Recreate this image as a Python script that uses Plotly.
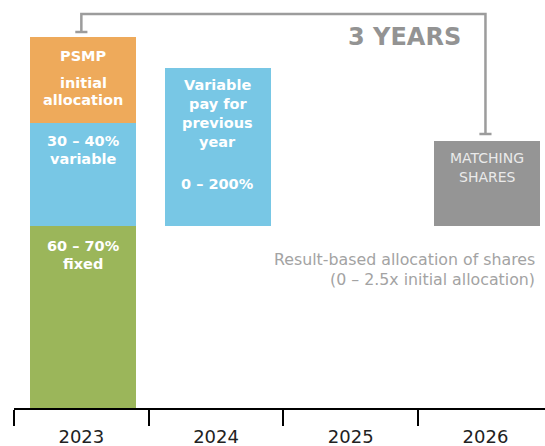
import plotly.graph_objects as go

# ---- data (heights in chart units, 1 unit ~ 1 px of the original) ----
years = ["2023", "2024", "2025", "2026"]
fixed_2023 = 182          # 60-70% fixed
variable_2023 = 103       # 30-40% variable
psmp_2023 = 86            # PSMP initial allocation
varpay_2024 = 158         # variable pay for previous year
varpay_base = 182
matching_2026 = 85        # matching shares
matching_base = 182

GREEN = "#9BB65A"
BLUE = "#78C7E5"
ORANGE = "#EEAA5B"
GRAY = "#959595"
LINE_GRAY = "#9C9C9C"

BAR_W = 0.787
BAR_OFF = -0.38
def bar_center(i):
    return i + BAR_OFF + BAR_W / 2

fig = go.Figure()

def add_bar(x, y, base, color):
    fig.add_trace(go.Bar(
        x=[x], y=[y], base=[base], width=[BAR_W], offset=BAR_OFF,
        marker=dict(color=color, line=dict(width=0)),
        hoverinfo="skip", showlegend=False))

add_bar(years[0], fixed_2023, 0, GREEN)
add_bar(years[0], variable_2023, fixed_2023, BLUE)
add_bar(years[0], psmp_2023, fixed_2023 + variable_2023, ORANGE)
add_bar(years[1], varpay_2024, varpay_base, BLUE)
add_bar(years[3], matching_2026, matching_base, GRAY)

# helper to register all categories on the axis
fig.add_trace(go.Scatter(x=years, y=[0, 0, 0, 0], mode="markers",
                         marker=dict(opacity=0), hoverinfo="skip",
                         showlegend=False))

# ---- bar labels ----
bold = dict(family="DejaVu Sans", size=14.5, color="white", weight="bold")
labels = [
    (0, "PSMP", 352), (0, "initial", 325), (0, "allocation", 308),
    (0, "30 – 40%", 267), (0, "variable", 249),
    (0, "60 – 70%", 162), (0, "fixed", 144),
    (1, "Variable", 323), (1, "pay for", 304), (1, "previous", 285),
    (1, "year", 266), (1, "0 – 200%", 224),
]
for i, txt, yy in labels:
    fig.add_annotation(x=bar_center(i), y=yy, text=txt, showarrow=False,
                       xanchor="center", yanchor="middle", font=bold)

ms_font = dict(family="DejaVu Sans", size=14, color="#EAEAEA")
fig.add_annotation(x=bar_center(3), y=250, text="MATCHING", showarrow=False,
                   font=ms_font)
fig.add_annotation(x=bar_center(3), y=231, text="SHARES", showarrow=False,
                   font=ms_font)

res_font = dict(family="DejaVu Sans", size=15.8, color="#A3A3A3")
fig.add_annotation(x=3.385, y=149, text="Result-based allocation of shares",
                   showarrow=False, xanchor="right", yanchor="middle",
                   font=res_font)
fig.add_annotation(x=3.385, y=129, text="(0 – 2.5x initial allocation)",
                   showarrow=False, xanchor="right", yanchor="middle",
                   font=res_font)

fig.add_annotation(x=2.402, y=371, text="3 YEARS", showarrow=False,
                   xanchor="center", yanchor="middle",
                   font=dict(family="DejaVu Sans", size=24, color="#939393",
                             weight="bold"))

# ---- bracket ----
lw = 2.5
fig.add_shape(type="path", xref="x", yref="y",
              path="M 0,376 L 0,394 L 3,394 L 3,274",
              line=dict(color=LINE_GRAY, width=lw))
for cx, cy in [(0, 376), (3, 274)]:
    fig.add_shape(type="line", xref="x", yref="y",
                  x0=cx - 0.045, x1=cx + 0.045, y0=cy, y1=cy,
                  line=dict(color=LINE_GRAY, width=lw))

fig.update_layout(
    width=545, height=446,
    margin=dict(l=14, r=0, t=0, b=38, autoexpand=False),
    paper_bgcolor="white", plot_bgcolor="white",
    barmode="overlay", bargap=0,
    showlegend=False,
    xaxis=dict(type="category", categoryorder="array", categoryarray=years,
               range=[-0.5, 3.442], tickson="boundaries", automargin=False,
               showline=True, linecolor="black", linewidth=2,
               ticks="outside", ticklen=16, tickwidth=1.5, tickcolor="black",
               ticklabelstandoff=11,
               showgrid=False, zeroline=False, fixedrange=True,
               tickfont=dict(family="DejaVu Sans", size=18, color="#222222")),
    yaxis=dict(range=[0, 408], visible=False, showgrid=False, zeroline=False,
               fixedrange=True, automargin=False),
)

fig.write_html("out.html", config={"displayModeBar": False})
